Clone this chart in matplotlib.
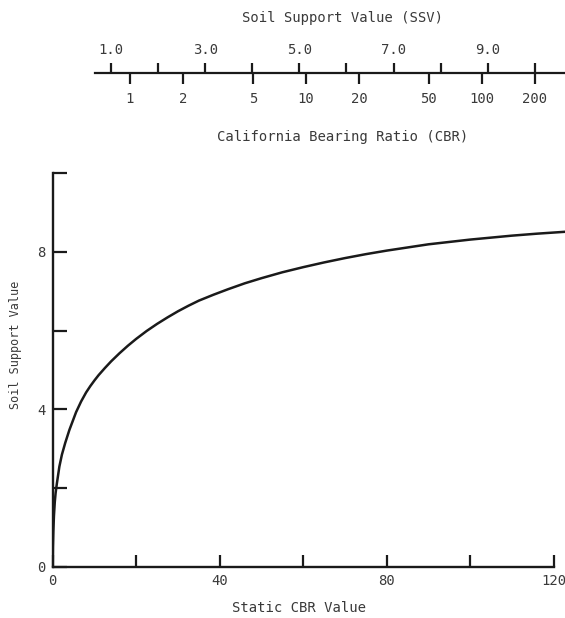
import numpy as np
import matplotlib
matplotlib.use("Agg")
import matplotlib.pyplot as plt
from matplotlib.ticker import NullLocator

# curve: static CBR vs soil support value
cbr_vals = [0, 0.05, 0.15, 0.3, 0.5, 0.7, 1, 1.6, 2.2, 3, 4, 5.6, 6.8, 8, 9,
            10, 11, 12.5, 14, 16, 18, 20, 22.5, 25, 27.5, 30, 32.5, 35, 38.5,
            42, 46, 50, 55, 60, 65, 70, 75, 80, 85, 90, 95, 100, 105, 110,
            116, 123]
ssv_vals = [0, 0.5, 0.9, 1.3, 1.65, 1.88, 2.12, 2.55, 2.85, 3.15, 3.48, 3.93,
            4.2, 4.43, 4.59, 4.735, 4.87, 5.05, 5.22, 5.425, 5.615, 5.79,
            5.99, 6.17, 6.335, 6.49, 6.63, 6.76, 6.91, 7.05, 7.2, 7.33, 7.48,
            7.61, 7.73, 7.84, 7.94, 8.03, 8.11, 8.19, 8.25, 8.31, 8.36, 8.41,
            8.46, 8.51]

# main axes ticks
x_ticks = [0, 20, 40, 60, 80, 100, 120]
x_labels = ["0", "", "40", "", "80", "", "120"]
y_ticks = [0, 2, 4, 6, 8, 10]
y_labels = ["0", "", "4", "", "8", ""]

# nomograph scale at the top
ssv_ticks = [1, 2, 3, 4, 5, 6, 7, 8, 9, 10]
ssv_labels = ["1.0", "", "3.0", "", "5.0", "", "7.0", "", "9.0", ""]
cbr_ticks = [1, 2, 5, 10, 20, 50, 100, 200]
cbr_labels = ["1", "2", "5", "10", "20", "50", "100", "200"]

INK = "#1a1a1a"
TXT = "#3a3a3a"
plt.rcParams["font.family"] = "DejaVu Sans Mono"

W, H = 565, 618
fig = plt.figure(figsize=(W / 100, H / 100), dpi=100)

# ---- top nomograph: SSV (linear) above, CBR (log) below ----
ax_n = fig.add_axes([95 / W, 1 - 73 / H, 470 / W, 0.0005])
ax_n.set_xlim(0.66, 10.64)
ax_n.set_ylim(0, 1)
for s in ("top", "left", "right"):
    ax_n.spines[s].set_visible(False)
ax_n.spines["bottom"].set_linewidth(1.6)
ax_n.spines["bottom"].set_color(INK)
ax_n.set_yticks([])
ax_n.set_xticks(ssv_ticks, ssv_labels)
ax_n.tick_params(axis="x", direction="in", length=7, width=1.6, color=INK,
                 bottom=True, top=False, labelbottom=False, labeltop=True,
                 pad=11, labelsize=10, labelcolor=TXT)

a_off, b_sl = 1.403, 3.736


def ssv_to_cbr(s):
    return 10 ** ((np.asarray(s, dtype=float) - a_off) / b_sl)


def cbr_to_ssv(c):
    c = np.maximum(np.asarray(c, dtype=float), 1e-6)
    return a_off + b_sl * np.log10(c)


sec = ax_n.secondary_xaxis("bottom", functions=(ssv_to_cbr, cbr_to_ssv))
sec.spines["bottom"].set_visible(False)
sec.set_xticks(cbr_ticks, cbr_labels)
sec.xaxis.set_minor_locator(NullLocator())
sec.tick_params(axis="x", direction="out", length=8, width=1.6, color=INK,
                pad=6, labelsize=10, labelcolor=TXT)

fig.text(343 / W, 1 - 18 / H, "Soil Support Value (SSV)", ha="center",
         va="center", fontsize=10, color=TXT)
fig.text(343 / W, 1 - 137 / H, "California Bearing Ratio (CBR)", ha="center",
         va="center", fontsize=10, color=TXT)

# ---- main chart ----
ax = fig.add_axes([52.7 / W, 51 / H, 513.5 / W, 394 / H])
ax.plot(cbr_vals, ssv_vals, color=INK, lw=1.8, solid_capstyle="round",
        solid_joinstyle="round")
ax.set_xlim(0, 123)
ax.set_ylim(0, 10)
ax.spines["top"].set_visible(False)
ax.spines["right"].set_visible(False)
for s in ("left", "bottom"):
    ax.spines[s].set_linewidth(1.7)
    ax.spines[s].set_color(INK)
ax.spines["bottom"].set_bounds(0, 120)
ax.set_xticks(x_ticks, x_labels)
ax.set_yticks(y_ticks, y_labels)
ax.tick_params(axis="both", direction="in", width=1.6, color=INK,
               labelsize=10, labelcolor=TXT)
ax.tick_params(axis="x", length=9, pad=5)
ax.tick_params(axis="y", length=10, pad=5)

fig.text(299 / W, 1 - 608 / H, "Static CBR Value", ha="center", va="center",
         fontsize=10, color=TXT)
fig.text(16 / W, 1 - 345 / H, "Soil Support Value", ha="center", va="center",
         rotation=90, fontsize=8.5, color=TXT)

fig.savefig("out.png", dpi=100)
